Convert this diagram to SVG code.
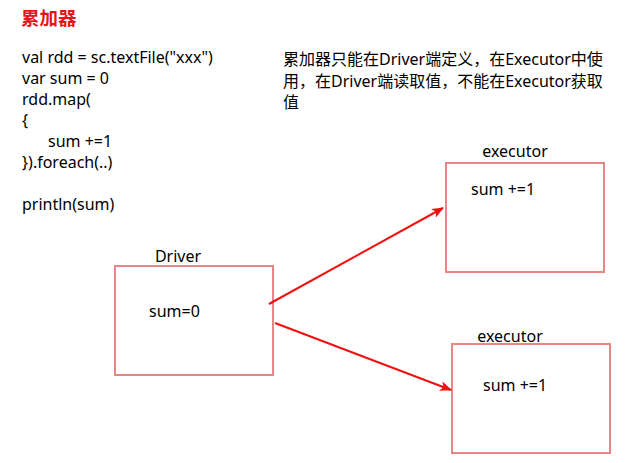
<svg xmlns="http://www.w3.org/2000/svg" width="633" height="463" viewBox="0 0 633 463">
<style>
text{font-family:"Noto Sans","Noto Sans CJK SC",sans-serif;fill:#000}
.code{font-size:16px}
.title{font-size:18.5px;font-weight:bold;fill:#e8141b}
.note{font-size:16px}
.box{fill:#fff;stroke:#e98585;stroke-width:2}
.lbl{font-size:16px}
.arr{stroke:#f01010;stroke-width:2;fill:none;marker-end:url(#ah)}
</style>
<defs>
<marker id="ah" markerWidth="12" markerHeight="10" refX="11" refY="5" orient="auto" markerUnits="userSpaceOnUse">
<path d="M0,0 L12,5 L0,10 L3,5 Z" fill="#f01010"/>
</marker>
</defs>
<rect width="633" height="463" fill="#fff"/>
<text class="title" x="21" y="25">累加器</text>
<g id="code">
<text class="code" x="22" y="63">val rdd = sc.textFile("xxx")</text>
<text class="code" x="22" y="84">var sum = 0</text>
<text class="code" x="22" y="105">rdd.map(</text>
<text class="code" x="22" y="126">{</text>
<text class="code" x="48" y="147">sum +=1</text>
<text class="code" x="22" y="168">}).foreach(..)</text>
<text class="code" x="22" y="210">println(sum)</text>
</g>
<g id="note">
<text class="note" x="283" y="65">累加器只能在Driver端定义，在Executor中使</text>
<text class="note" x="283" y="87">用，在Driver端读取值，不能在Executor获取</text>
<text class="note" x="283" y="108">值</text>
</g>
<g id="driver">
<text class="lbl" x="178" y="262" text-anchor="middle">Driver</text>
<rect class="box" x="115" y="266" width="158" height="109"/>
<text class="lbl" x="149" y="317">sum=0</text>
</g>
<g id="executor1">
<text class="lbl" x="515" y="157" text-anchor="middle">executor</text>
<rect class="box" x="446" y="163" width="158" height="109"/>
<text class="lbl" x="471" y="195">sum +=1</text>
</g>
<g id="executor2">
<text class="lbl" x="510" y="342" text-anchor="middle">executor</text>
<rect class="box" x="452" y="344" width="158" height="109"/>
<text class="lbl" x="483" y="391">sum +=1</text>
</g>
<g id="connectors">
<line class="arr" x1="269" y1="304" x2="443" y2="208"/>
<line class="arr" x1="275" y1="323" x2="451" y2="390"/>
</g>
</svg>
